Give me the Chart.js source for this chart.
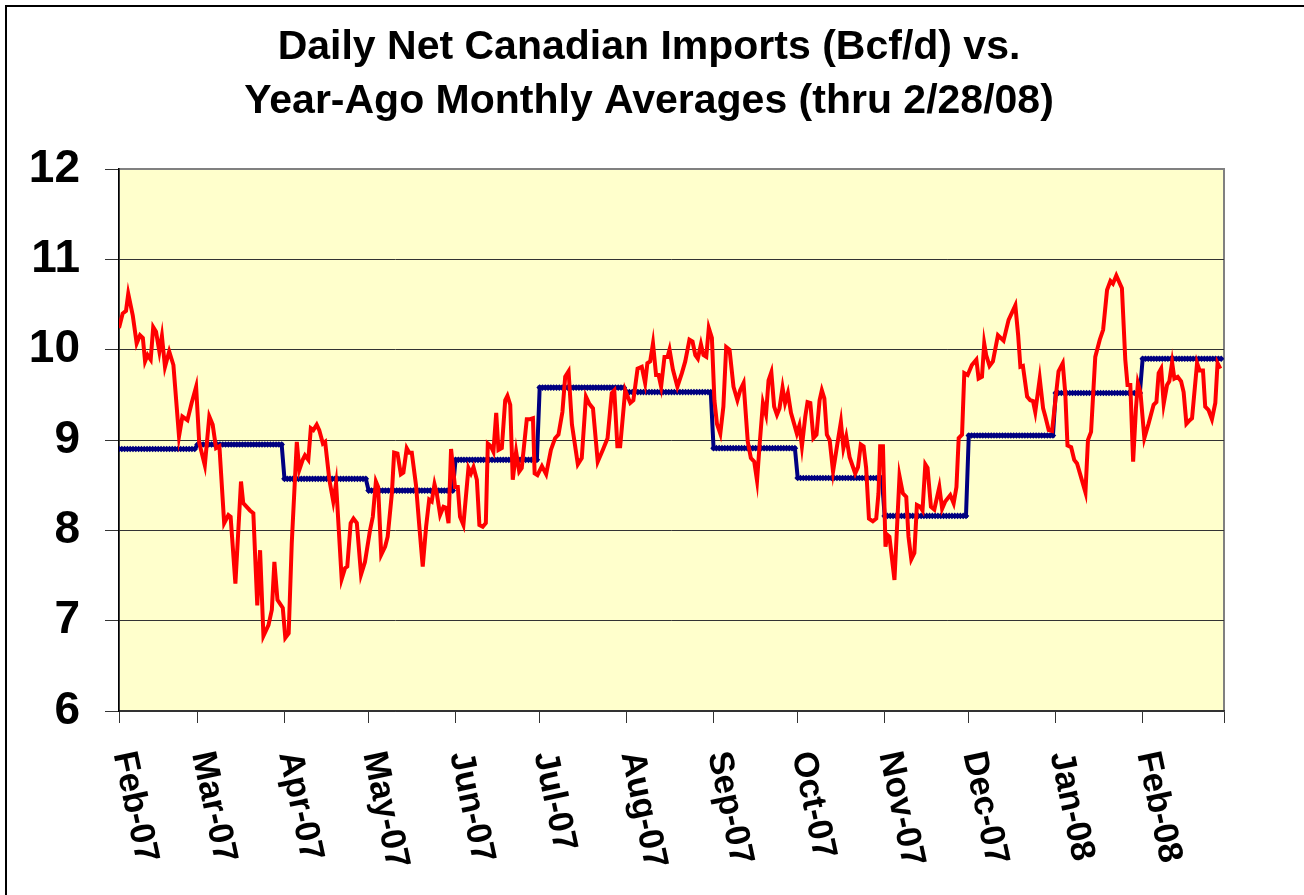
<!DOCTYPE html>
<html>
<head>
<meta charset="utf-8">
<title>Daily Net Canadian Imports</title>
<script src="https://cdn.jsdelivr.net/npm/chart.js@4.4.1/dist/chart.umd.min.js"></script>
<style>
    body { margin: 0; background: #ffffff; }
    canvas { display: block; }
</style>
</head>
<body>
<canvas id="myChart" width="1304" height="895"></canvas>
<script>
"use strict";

const titleLines = ["Daily Net Canadian Imports (Bcf/d) vs.", "Year-Ago Monthly Averages (thru 2/28/08)"];

// month axis: day 0 = Feb 1 2007
const monthLabels = ["Feb-07", "Mar-07", "Apr-07", "May-07", "Jun-07", "Jul-07", "Aug-07",
    "Sep-07", "Oct-07", "Nov-07", "Dec-07", "Jan-08", "Feb-08"];
const monthStartDays = [0, 28, 59, 89, 120, 150, 181, 212, 242, 273, 303, 334, 365];
const monthLengths = [28, 31, 30, 31, 30, 31, 31, 30, 31, 30, 31, 31, 29];
const axisEndDay = 394;

// year-ago monthly averages (Bcf/d)
const yearAgoAverages = [8.90, 8.95, 8.57, 8.44, 8.78, 9.58, 9.53, 8.91, 8.58, 8.16, 9.05, 9.52, 9.90];

// daily net imports [day, Bcf/d]
const dailyImports = [
    [0, 10.24], [1.3, 10.40], [2.5, 10.43], [3.3, 10.62], [4.9, 10.38], [6.3, 10.07], [7.5, 10.16],
    [8.5, 10.13], [9.3, 9.87], [10.2, 9.94], [11.3, 9.89], [12.2, 10.25], [13.2, 10.20], [14.4, 9.98],
    [15.3, 10.15], [16.4, 9.81], [17.9, 9.98], [19.4, 9.83], [21.4, 9.04], [22.6, 9.26], [24.4, 9.22],
    [25.9, 9.41], [27.5, 9.59], [28.6, 8.97], [30.6, 8.72], [32.2, 9.26], [33.4, 9.17], [34.6, 8.91],
    [35.8, 8.93], [37.5, 8.08], [39.0, 8.17], [39.8, 8.15], [41.5, 7.41], [43.5, 8.54], [44.3, 8.30],
    [46.7, 8.22], [47.9, 8.19], [49.3, 7.17], [50.3, 7.78], [51.5, 6.83], [53.3, 6.95], [54.5, 7.12],
    [55.4, 7.65], [56.5, 7.23], [58.4, 7.14], [59.3, 6.81], [60.5, 6.86], [61.6, 7.86], [63.4, 8.98],
    [64.3, 8.67], [65.5, 8.78], [66.3, 8.83], [67.5, 8.78], [68.4, 9.13], [69.3, 9.11], [70.5, 9.17],
    [71.4, 9.11], [72.7, 8.96], [73.5, 8.98], [75.0, 8.56], [76.4, 8.32], [77.4, 8.52], [79.4, 7.46],
    [80.6, 7.58], [81.4, 7.60], [82.6, 8.08], [83.6, 8.13], [84.8, 8.08], [86.3, 7.51], [87.7, 7.65],
    [89.5, 8.00], [90.5, 8.15], [91.6, 8.54], [92.4, 8.48], [93.5, 7.73], [94.9, 7.82], [95.8, 7.93],
    [97.3, 8.41], [98.1, 8.86], [99.3, 8.85], [100.5, 8.62], [101.4, 8.64], [102.6, 8.91], [103.5, 8.86],
    [104.4, 8.86], [105.9, 8.50], [107.1, 8.04], [108.3, 7.60], [109.5, 8.04], [110.6, 8.34], [111.5, 8.32],
    [112.5, 8.51], [113.3, 8.41], [114.5, 8.17], [115.7, 8.26], [116.6, 8.25], [117.5, 8.08], [118.4, 8.90],
    [119.8, 8.48], [120.8, 8.48], [121.6, 8.15], [122.8, 8.06], [124.6, 8.69], [125.5, 8.63], [126.4, 8.70],
    [127.6, 8.56], [128.5, 8.06], [129.7, 8.04], [130.8, 8.08], [131.5, 8.96], [132.6, 8.93], [133.5, 8.87],
    [134.5, 9.30], [135.3, 8.89], [136.5, 8.91], [137.7, 9.44], [138.5, 9.49], [139.5, 9.39], [140.4, 8.56],
    [141.6, 8.87], [142.7, 8.65], [143.6, 8.69], [145.4, 9.23], [146.6, 9.23], [147.6, 9.24], [148.2, 8.63],
    [149.2, 8.61], [150.8, 8.71], [152.3, 8.62], [154.0, 8.89], [155.5, 9.02], [156.7, 9.06], [158.1, 9.31],
    [159.1, 9.70], [160.3, 9.76], [161.5, 9.17], [163.6, 8.73], [165.0, 8.80], [166.5, 9.48], [167.7, 9.40],
    [169.0, 9.35], [170.7, 8.76], [172.5, 8.89], [174.2, 9.02], [175.7, 9.52], [176.6, 9.55], [177.7, 8.93],
    [178.7, 8.93], [180.5, 9.55], [182.3, 9.41], [183.4, 9.44], [184.9, 9.79], [186.4, 9.81], [187.6, 9.63],
    [188.4, 9.85], [189.4, 9.87], [190.4, 10.07], [191.5, 9.72], [192.4, 9.72], [193.3, 9.59], [194.5, 9.92],
    [195.6, 9.92], [196.3, 10.00], [197.5, 9.78], [199.1, 9.59], [200.7, 9.74], [201.9, 9.87], [203.4, 10.11],
    [204.5, 10.09], [205.5, 9.94], [206.4, 9.90], [207.5, 10.06], [208.4, 9.94], [209.4, 9.92], [210.3, 10.24],
    [211.4, 10.13], [212.3, 9.44], [213.2, 9.18], [214.4, 9.07], [215.5, 9.37], [216.5, 10.03], [217.7, 10.00],
    [219.1, 9.59], [220.5, 9.44], [221.5, 9.55], [222.7, 9.63], [224.2, 8.98], [225.3, 8.80], [226.5, 8.76],
    [227.5, 8.55], [228.4, 8.94], [229.6, 9.41], [230.7, 9.28], [231.6, 9.66], [232.6, 9.75], [233.6, 9.37],
    [234.6, 9.28], [235.5, 9.35], [236.6, 9.58], [237.5, 9.41], [238.5, 9.52], [239.6, 9.30], [240.8, 9.17],
    [241.7, 9.07], [242.6, 9.16], [243.5, 8.93], [244.7, 9.26], [245.5, 9.42], [246.5, 9.41], [247.6, 9.02],
    [248.7, 9.06], [249.8, 9.44], [250.6, 9.55], [251.5, 9.46], [252.4, 9.06], [253.4, 9.00], [254.6, 8.65],
    [256.0, 8.93], [257.4, 9.20], [258.3, 8.91], [259.3, 9.04], [260.5, 8.81], [262.5, 8.63], [263.5, 8.70],
    [264.5, 8.95], [265.5, 8.93], [266.4, 8.69], [267.4, 8.13], [268.8, 8.10], [270.0, 8.13], [270.8, 8.41],
    [271.4, 8.93], [272.4, 8.93], [273.3, 7.82], [274.0, 7.95], [274.7, 7.93], [276.5, 7.45], [278.3, 8.60],
    [279.5, 8.41], [280.7, 8.37], [281.5, 7.93], [282.5, 7.68], [283.6, 7.75], [284.5, 8.28], [285.7, 8.26],
    [286.5, 8.22], [287.5, 8.73], [288.3, 8.69], [289.5, 8.26], [290.7, 8.23], [292.5, 8.48], [293.5, 8.24],
    [294.6, 8.32], [296.4, 8.39], [297.6, 8.30], [298.6, 8.48], [299.4, 9.02], [300.6, 9.06], [301.4, 9.74],
    [302.6, 9.72], [304.1, 9.83], [305.7, 9.89], [306.5, 9.68], [307.7, 9.70], [308.5, 10.07], [309.2, 9.94],
    [310.4, 9.82], [311.6, 9.87], [313.4, 10.16], [315.4, 10.10], [317.2, 10.33], [319.6, 10.49], [320.6, 10.16],
    [321.4, 9.81], [322.3, 9.82], [323.8, 9.48], [324.9, 9.44], [325.9, 9.43], [326.7, 9.31], [328.3, 9.68],
    [329.5, 9.35], [330.3, 9.26], [331.5, 9.11], [332.7, 9.10], [335.0, 9.76], [336.5, 9.85], [337.4, 9.52],
    [338.2, 8.94], [339.5, 8.92], [340.6, 8.78], [341.6, 8.74], [344.6, 8.42], [345.5, 9.00], [346.6, 9.09],
    [348.1, 9.92], [349.7, 10.11], [350.9, 10.22], [352.3, 10.66], [353.5, 10.76], [354.4, 10.73], [355.6, 10.82],
    [357.6, 10.68], [358.8, 9.89], [359.6, 9.61], [360.6, 9.61], [361.6, 8.76], [362.6, 9.35], [363.3, 9.63],
    [364.2, 9.53], [365.6, 9.02], [367.1, 9.18], [368.9, 9.39], [369.9, 9.42], [370.7, 9.74], [371.6, 9.79],
    [372.5, 9.40], [373.7, 9.61], [374.5, 9.65], [375.5, 9.86], [376.3, 9.68], [377.5, 9.70], [378.7, 9.65],
    [379.6, 9.53], [380.6, 9.18], [381.8, 9.22], [382.6, 9.24], [384.4, 9.85], [385.3, 9.77], [386.5, 9.77],
    [387.3, 9.37], [388.5, 9.33], [389.7, 9.23], [390.9, 9.41], [391.7, 9.85], [392.7, 9.79]
];

const fontFamily = "Arial, 'Liberation Sans', Helvetica, sans-serif";

function buildYearAgoSeries() {
    let points = [];
    for (let m = 0; m < monthStartDays.length; m++) {
        for (let d = 0; d < monthLengths[m]; d++) {
            points.push({x: monthStartDays[m] + d, y: yearAgoAverages[m]});
        }
    }
    return points;
}

const framePlugin = {
    id: "frame",
    beforeDraw: function (chart) {
        let ctx = chart.ctx;
        let area = chart.chartArea;
        ctx.save();
        ctx.fillStyle = "#ffffff";
        ctx.fillRect(0, 0, chart.width, chart.height);
        ctx.strokeStyle = "#000000";
        ctx.lineWidth = 2;
        ctx.strokeRect(6, 6, chart.width + 50, chart.height + 50);
        ctx.fillStyle = "#ffffcc";
        ctx.fillRect(area.left, area.top, area.right - area.left, area.bottom - area.top);
        ctx.strokeStyle = "#808080";
        ctx.lineWidth = 2;
        ctx.strokeRect(area.left, area.top, area.right - area.left, area.bottom - area.top);
        ctx.restore();
    },
    afterDraw: function (chart) {
        let ctx = chart.ctx;
        let xScale = chart.scales.x;
        ctx.save();
        ctx.fillStyle = "#000000";
        ctx.textAlign = "center";
        ctx.textBaseline = "middle";
        ctx.font = "bold 41px " + fontFamily;
        ctx.fillText(titleLines[0], 649, 48);
        ctx.fillText(titleLines[1], 649, 102);

        ctx.font = "bold 35px " + fontFamily;
        ctx.textAlign = "left";
        for (let i = 0; i < monthLabels.length; i++) {
            let x = xScale.getPixelForValue(monthStartDays[i]) + 4;
            ctx.save();
            ctx.translate(x, 752);
            ctx.rotate(78 * Math.PI / 180);
            ctx.fillText(monthLabels[i], 0, 0);
            ctx.restore();
        }
        ctx.restore();
    }
};

let chart = new Chart(document.getElementById("myChart"), {
    type: "line",
    data: {
        datasets: [
            {
                label: "Daily",
                data: dailyImports.map(p => ({x: p[0], y: p[1]})),
                borderColor: "#ff0000",
                borderWidth: 4,
                pointRadius: 0,
                tension: 0,
                order: 0
            },
            {
                label: "Year-Ago Monthly Average",
                data: buildYearAgoSeries(),
                borderColor: "#000080",
                borderWidth: 4,
                pointRadius: 3.3,
                pointStyle: "rectRot",
                pointBorderWidth: 0,
                pointBorderColor: "#000080",
                pointBackgroundColor: "#000080",
                tension: 0,
                order: 1
            }
        ]
    },
    options: {
        responsive: false,
        animation: false,
        devicePixelRatio: 1,
        layout: {padding: {top: 169, right: 80, bottom: 0, left: 0}},
        plugins: {
            legend: {display: false},
            title: {display: false},
            tooltip: {enabled: false}
        },
        scales: {
            x: {
                type: "linear",
                min: 0,
                max: axisEndDay,
                afterBuildTicks: function (scale) {
                    scale.ticks = monthStartDays.concat([axisEndDay]).map(v => ({value: v}));
                },
                afterFit: function (scale) { scale.height = 184; },
                ticks: {display: false},
                grid: {drawOnChartArea: false, drawTicks: true, tickLength: 12, tickColor: "#333333"},
                border: {display: true, color: "#333333", width: 1.5}
            },
            y: {
                min: 6,
                max: 12,
                afterFit: function (scale) { scale.width = 119; },
                ticks: {
                    stepSize: 1,
                    padding: 25,
                    color: "#000000",
                    font: {family: fontFamily, size: 46, weight: "bold"}
                },
                grid: {
                    color: ctx => ctx.tick && ctx.tick.value === 12 ? "#808080" : "#333333",
                    tickLength: 14,
                    tickColor: "#333333"
                },
                border: {display: true, color: "#000000", width: 1.5}
            }
        }
    },
    plugins: [framePlugin]
});
</script>
</body>
</html>
